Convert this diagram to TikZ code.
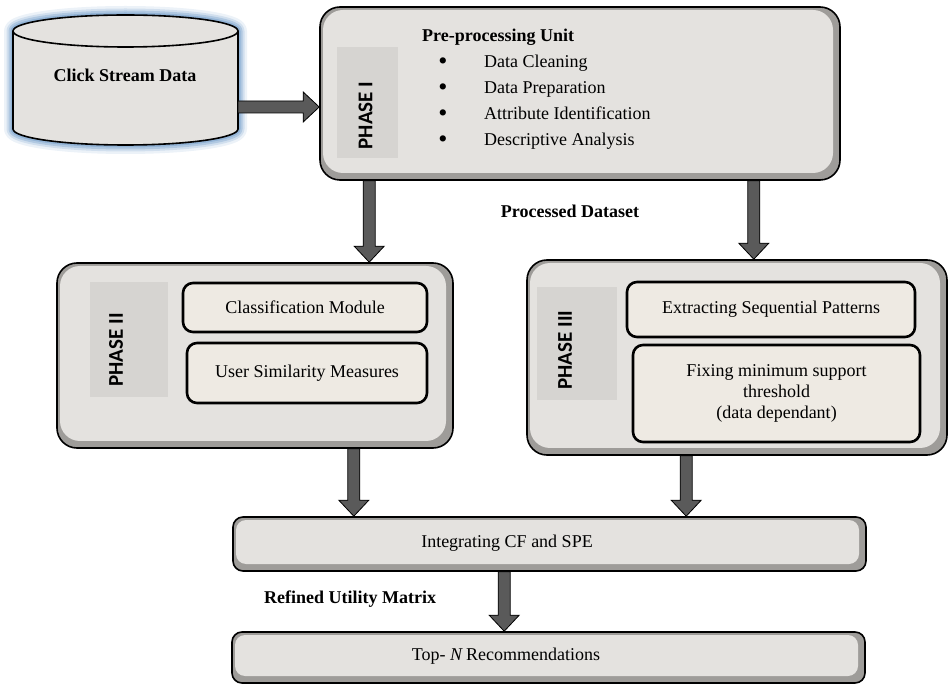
\documentclass[tikz,border=0pt]{standalone}
\usepackage{fontspec}
\setmainfont{Liberation Serif}
\newfontfamily\phasefont{Carlito}
\usetikzlibrary{calc}
\definecolor{boxfill}{HTML}{E4E2DF}
\definecolor{boxedge}{HTML}{9E9C99}
\definecolor{tagfill}{HTML}{D6D4D1}
\definecolor{modfill}{HTML}{EEEAE3}
\definecolor{arrowgray}{HTML}{5A5A5A}
\definecolor{glow}{HTML}{7FA6CF}
\tikzset{>=latex,
  phase/.style={draw=black, line width=1.6pt, fill=boxedge, rounded corners=#1,
    path picture={\fill[boxfill, rounded corners=#1]
      ([shift={(3pt,7pt)}]path picture bounding box.south west) rectangle
      ([shift={(-7pt,-3pt)}]path picture bounding box.north east);}},
  phase/.default=20pt,
  tag/.style={fill=tagfill},
  phasetxt/.style={rotate=90, font=\phasefont\bfseries\fontsize{21}{24}\selectfont},
  module/.style={draw=black, line width=2.6pt, fill=modfill, rounded corners=10pt, align=center},
  fat/.style={draw=black, line width=0.8pt, fill=arrowgray,
    to path={($(\tikztostart)!6pt!90:(\tikztotarget)$)
      -- ($(\tikztotarget)!16pt!(\tikztostart)!6pt!90:(\tikztotarget)$)
      -- ($(\tikztotarget)!16pt!(\tikztostart)!15pt!90:(\tikztotarget)$)
      -- (\tikztotarget)
      -- ($(\tikztotarget)!16pt!(\tikztostart)!15pt!-90:(\tikztotarget)$)
      -- ($(\tikztotarget)!16pt!(\tikztostart)!6pt!-90:(\tikztotarget)$)
      -- ($(\tikztostart)!6pt!-90:(\tikztotarget)$) -- cycle}}
}

\begin{document}
\fontsize{18}{21}\selectfont
\begin{tikzpicture}[x=1pt, y=-1pt]
  \useasboundingbox (0,0) rectangle (948,684);
  % click stream store
  \foreach \w/\o in {18/0.15, 13/0.25, 9/0.4, 5/0.6}
    \draw[glow, line width=\w pt, opacity=\o, line join=round] (13,31) -- (13,129)
      arc[start angle=180, end angle=360, x radius=112.5pt, y radius=16pt] -- (238,31)
      arc[start angle=0, end angle=180, x radius=112.5pt, y radius=16pt] -- cycle;
  \filldraw[fill=boxfill, draw=black, line width=1.6pt] (13,31) -- (13,129)
    arc[start angle=180, end angle=360, x radius=112.5pt, y radius=16pt] -- (238,31)
    arc[start angle=0, end angle=180, x radius=112.5pt, y radius=16pt] -- cycle;
  \draw[line width=1.6pt] (13,31) arc[start angle=180, end angle=360, x radius=112.5pt, y radius=16pt];
  \node[font=\bfseries, anchor=base] (csd) at (125,82) {Click Stream Data};
  \coordinate (csdout) at (238,107);

  % phase I
  \node[phase, minimum width=520, minimum height=173] (p1) at (580,93.5) {};
  \node[tag, minimum width=61, minimum height=111] (tag1) at (367.5,102.5) {};
  \node[phasetxt] (ph1) at (365.5,115.5) {PHASE I};
  \node[font=\bfseries, anchor=base west] (ppu) at (416,42) {Pre-processing Unit};
  \foreach \txt [count=\i] in {Data Cleaning, Data Preparation, Attribute Identification, Descriptive Analysis} {
    \node[anchor=base, font=\fontsize{26}{26}\selectfont] (b\i) at (443,44+25.8*\i) {\textbullet};
    \node[anchor=base west] (it\i) at (478,42+25.8*\i) {\txt};
  }
  \node[font=\bfseries, anchor=base] (pds) at (570,218) {Processed Dataset};

  % phase II
  \node[phase, minimum width=396, minimum height=185] (p2) at (255,355.5) {};
  \node[tag, minimum width=78, minimum height=115] (tag2) at (129,339.5) {};
  \node[phasetxt] (ph2) at (116,350) {PHASE II};
  \node[module, minimum width=244, minimum height=49] (cls) at (305,307.5) {Classification Module};
  \node[module, minimum width=240, minimum height=60] (usm) at (307,373) {User Similarity Measures};

  % phase III
  \node[phase, minimum width=420, minimum height=195] (p3) at (737,357.5) {};
  \node[tag, minimum width=80, minimum height=113] (tag3) at (577,343.5) {};
  \node[phasetxt] (ph3) at (565,350) {PHASE III};
  \node[module, minimum width=288, minimum height=55] (esp) at (771,309.5) {Extracting Sequential Patterns};
  \node[module, minimum width=287, minimum height=97] (fms) at (776.5,393.5) {Fixing minimum support\\threshold\\(data dependant)};

  % integration and output
  \node[phase=10pt, minimum width=633, minimum height=54] (icf) at (549.5,544) {};
  \node[anchor=base] (icftxt) at (507,547) {Integrating CF and SPE};
  \node[font=\bfseries, anchor=base west] (rum) at (258,603) {Refined Utility Matrix};
  \node[phase=10pt, minimum width=633, minimum height=51] (topn) at (548.5,657.5) {};
  \node[anchor=base] (topntxt) at (506,660) {Top- \textit{N}\,Recommendations};

  % arrows
  \coordinate (a2) at ([xshift=50pt]p1.south west);
  \coordinate (a3) at ([xshift=-87pt]p1.south east);
  \coordinate (a4) at ([xshift=-100pt]p2.south east);
  \coordinate (a5) at ([xshift=160pt]p3.south west);
  \coordinate (a6) at ([xshift=272pt]icf.south west);
  \draw[fat] (csdout) to (csdout -| p1.west);
  \draw[fat] (a2) to (a2 |- p2.north);
  \draw[fat] (a3) to (a3 |- p3.north);
  \draw[fat] (a4) to (a4 |- icf.north);
  \draw[fat] (a5) to (a5 |- icf.north);
  \draw[fat] (a6) to (a6 |- topn.north);
\end{tikzpicture}
\end{document}
